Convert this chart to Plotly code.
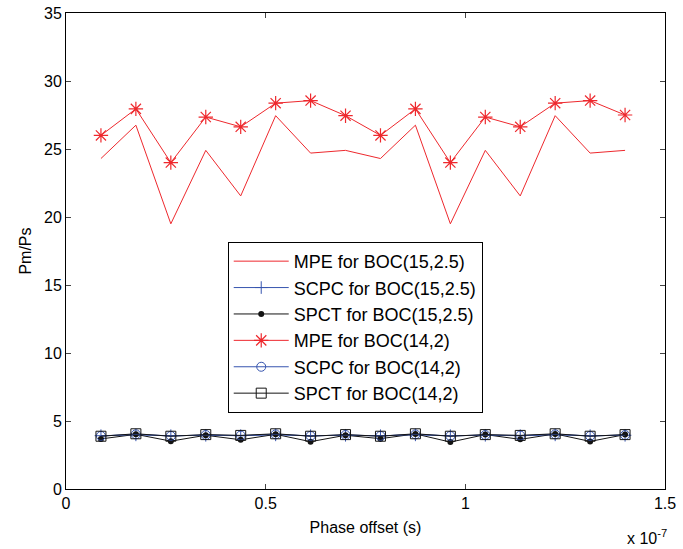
import plotly.graph_objects as go

x_offset = [0.0875e-7 * k for k in range(1, 17)]

mpe_15 = [24.3, 26.75, 19.5, 24.9, 21.55, 27.45, 24.7, 24.9,
          24.3, 26.75, 19.5, 24.9, 21.55, 27.45, 24.7, 24.9]
scpc_15 = [3.92, 3.98, 3.92, 3.95, 3.92, 3.98, 3.92, 3.95,
           3.92, 3.98, 3.92, 3.95, 3.92, 3.98, 3.92, 3.95]
spct_15 = [3.68, 4.02, 3.52, 3.95, 3.62, 4.02, 3.48, 3.95,
           3.7, 4.05, 3.45, 4.0, 3.65, 4.05, 3.5, 4.0]
mpe_14 = [26.0, 27.95, 24.0, 27.35, 26.63, 28.37, 28.56, 27.45,
          26.0, 27.95, 24.0, 27.35, 26.63, 28.37, 28.56, 27.5]
scpc_14 = [3.9, 4.02, 3.9, 3.97, 3.93, 4.02, 3.9, 3.97,
           3.9, 4.02, 3.9, 3.97, 3.93, 4.02, 3.9, 3.97]
spct_14 = [3.88, 4.06, 3.88, 4.0, 3.94, 4.06, 3.88, 4.0,
           3.88, 4.06, 3.88, 4.0, 3.94, 4.06, 3.88, 4.0]

x_tickvals = [0, 0.5e-7, 1e-7, 1.5e-7]
x_ticktext = ["0", "0.5", "1", "1.5"]
y_tickvals = [0, 5, 10, 15, 20, 25, 30, 35]

RED = "rgb(238,40,45)"
BLUE = "rgb(55,85,175)"
BLACK = "rgb(20,20,20)"
FONT = "Liberation Sans, Arial, sans-serif"

fig = go.Figure()
fig.add_trace(go.Scatter(x=x_offset, y=mpe_15, mode="lines", name="MPE for BOC(15,2.5)",
                         line=dict(color=RED, width=1)))
fig.add_trace(go.Scatter(x=x_offset, y=scpc_15, mode="lines+markers", name="SCPC for BOC(15,2.5)",
                         line=dict(color=BLUE, width=1),
                         marker=dict(symbol="cross-thin", size=9, line=dict(color=BLUE, width=1))))
fig.add_trace(go.Scatter(x=x_offset, y=spct_15, mode="lines+markers", name="SPCT for BOC(15,2.5)",
                         line=dict(color=BLACK, width=1),
                         marker=dict(symbol="circle", size=6, color=BLACK)))
fig.add_trace(go.Scatter(x=x_offset, y=mpe_14, mode="lines+markers", name="MPE for BOC(14,2)",
                         line=dict(color=RED, width=1),
                         marker=dict(symbol="asterisk-open", size=12, line=dict(color=RED, width=1.2))))
fig.add_trace(go.Scatter(x=x_offset, y=scpc_14, mode="lines+markers", name="SCPC for BOC(14,2)",
                         line=dict(color=BLUE, width=1),
                         marker=dict(symbol="circle-open", size=9, line=dict(color=BLUE, width=1))))
fig.add_trace(go.Scatter(x=x_offset, y=spct_14, mode="lines+markers", name="SPCT for BOC(14,2)",
                         line=dict(color=BLACK, width=1),
                         marker=dict(symbol="square-open", size=10, line=dict(color=BLACK, width=1))))

fig.update_layout(
    width=683, height=549,
    margin=dict(l=66, r=18, t=13, b=60, autoexpand=False),
    paper_bgcolor="white", plot_bgcolor="white",
    font=dict(family=FONT, size=16, color="black"),
    showlegend=True,
    legend=dict(x=0.27, y=0.519, xanchor="left", yanchor="top",
                bordercolor="black", borderwidth=1, bgcolor="white",
                font=dict(size=18), tracegroupgap=0, itemwidth=55),
    xaxis=dict(range=[0, 1.5e-7], tickvals=x_tickvals, ticktext=x_ticktext,
               showgrid=False, zeroline=False, showline=True, linecolor="black",
               linewidth=1, mirror="ticks", ticks="inside", ticklen=5,
               tickfont=dict(size=16), automargin=False,
               title=dict(text="Phase offset (s)", font=dict(size=16), standoff=10)),
    yaxis=dict(range=[0, 35], tickvals=y_tickvals,
               showgrid=False, zeroline=False, showline=True, linecolor="black",
               linewidth=1, mirror="ticks", ticks="inside", ticklen=5,
               tickfont=dict(size=16), automargin=False,
               title=dict(text="Pm/Ps", font=dict(size=16), standoff=8)),
    annotations=[dict(text="x 10<sup>-7</sup>", xref="paper", yref="paper",
                      x=0.97, y=-0.075, xanchor="center", yanchor="top",
                      showarrow=False, font=dict(size=16))],
)

fig.write_html("out.html", config={"displayModeBar": False},
               post_script="document.body.style.margin='0';document.body.style.padding='0';")
